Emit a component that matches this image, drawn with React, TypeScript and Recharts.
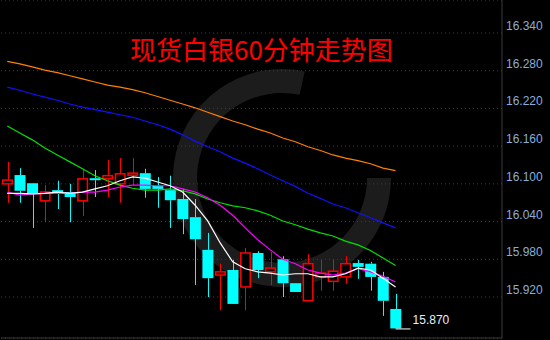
import React from "react";
import {
  ComposedChart, Bar, Line, XAxis, YAxis, CartesianGrid, ReferenceLine, ReferenceDot,
} from "recharts";

// 60-minute spot silver candles
const opens = [16.100, 16.114, 16.101, 16.073, 16.090, 16.087, 16.073, 16.109, 16.108, 16.100, 16.114, 16.117, 16.097, 16.090, 16.076, 16.047, 15.995, 15.955, 15.963, 15.936, 15.990, 15.960, 15.980, 15.942, 15.914, 15.952, 15.945, 15.952, 15.974, 15.973, 15.952, 15.901];
const closes = [16.106, 16.089, 16.084, 16.087, 16.084, 16.079, 16.108, 16.106, 16.113, 16.116, 16.117, 16.092, 16.092, 16.074, 16.044, 16.012, 15.950, 15.960, 15.909, 15.990, 15.963, 15.966, 15.942, 15.928, 15.973, 15.958, 15.961, 15.973, 15.968, 15.952, 15.914, 15.870];
const highs = [16.135, 16.125, 16.101, 16.098, 16.105, 16.100, 16.124, 16.122, 16.138, 16.141, 16.141, 16.124, 16.111, 16.113, 16.092, 16.076, 16.022, 15.973, 15.979, 15.998, 15.993, 15.992, 15.985, 15.942, 15.988, 15.979, 15.980, 15.985, 15.979, 15.976, 15.960, 15.925];
const lows = [16.070, 16.070, 16.030, 16.039, 16.060, 16.039, 16.049, 16.079, 16.079, 16.070, 16.098, 16.078, 16.062, 16.030, 16.020, 15.939, 15.920, 15.899, 15.909, 15.899, 15.950, 15.939, 15.920, 15.928, 15.914, 15.930, 15.930, 15.941, 15.949, 15.930, 15.890, 15.870];

// moving averages
const ma5 = [16.085, 16.085, 16.084, 16.085, 16.087, 16.085, 16.087, 16.092, 16.097, 16.105, 16.111, 16.109, 16.103, 16.097, 16.087, 16.066, 16.041, 16.006, 15.976, 15.965, 15.960, 15.958, 15.955, 15.957, 15.957, 15.952, 15.952, 15.957, 15.966, 15.963, 15.950, 15.936];
const ma10 = [16.087, 16.082, 16.084, 16.085, 16.085, 16.085, 16.087, 16.087, 16.090, 16.095, 16.098, 16.098, 16.097, 16.097, 16.092, 16.087, 16.078, 16.066, 16.050, 16.030, 16.011, 15.995, 15.980, 15.973, 15.963, 15.958, 15.955, 15.958, 15.965, 15.960, 15.953, 15.944];
const ma20 = [16.192, 16.181, 16.170, 16.157, 16.146, 16.135, 16.124, 16.113, 16.105, 16.098, 16.093, 16.090, 16.090, 16.092, 16.089, 16.084, 16.076, 16.070, 16.065, 16.062, 16.057, 16.050, 16.041, 16.035, 16.028, 16.022, 16.017, 16.009, 16.003, 15.994, 15.982, 15.970];
const ma60 = [16.254, 16.249, 16.243, 16.238, 16.233, 16.227, 16.222, 16.218, 16.214, 16.210, 16.206, 16.200, 16.194, 16.187, 16.178, 16.168, 16.159, 16.151, 16.141, 16.133, 16.124, 16.114, 16.105, 16.096, 16.085, 16.077, 16.068, 16.062, 16.054, 16.046, 16.038, 16.030];
const ma120 = [16.295, 16.291, 16.286, 16.281, 16.277, 16.272, 16.267, 16.262, 16.257, 16.254, 16.250, 16.245, 16.239, 16.233, 16.227, 16.221, 16.214, 16.207, 16.200, 16.194, 16.187, 16.181, 16.173, 16.167, 16.159, 16.153, 16.146, 16.141, 16.137, 16.132, 16.125, 16.121];

const priceTicks = [15.92, 15.98, 16.04, 16.1, 16.16, 16.22, 16.28, 16.34];
const lastPrice = 15.87;
const TITLE = "现货白银60分钟走势图";

const SLOTS = 40; // the chart leaves empty room on the right
const RED = "#ff0000";
const CYAN = "#00ffff";
const Y_MAX = 16.3925;
const Y_MIN = 15.8548;

const rows = Array.from({ length: SLOTS }, (_, i) => {
  if (i >= opens.length) return { t: `p${i}` } as any;
  return {
    t: `c${i}`,
    open: opens[i], close: closes[i], high: highs[i], low: lows[i],
    range: [lows[i], highs[i]],
    ma5: ma5[i], ma10: ma10[i], ma20: ma20[i], ma60: ma60[i], ma120: ma120[i],
  };
});

function Candle(props: any) {
  const { x, width, payload } = props;
  if (!payload || payload.high == null) return null;
  let { y, height } = props;
  if (height < 0) { y = y + height; height = -height; }
  const { open, close, high, low } = payload;
  const k = height / (high - low || 1e-9);
  const yO = y + (high - open) * k;
  const yC = y + (high - close) * k;
  const up = close >= open;
  const color = up ? RED : CYAN;
  const top = Math.min(yO, yC);
  const bh = Math.max(Math.abs(yO - yC), 2);
  const cx = Math.round(x + width / 2) + 0.5;
  return (
    <g>
      <line x1={cx} x2={cx} y1={y} y2={top} stroke={color} />
      <line x1={cx} x2={cx} y1={top + bh} y2={y + height} stroke={color} />
      {up ? (
        <rect x={x + 0.75} y={top} width={width - 1.5} height={bh} fill="#000" stroke={color} strokeWidth={1.5} />
      ) : (
        <rect x={x} y={top} width={width} height={bh} fill={color} />
      )}
    </g>
  );
}

function PriceTick(props: any) {
  const { x, y, payload } = props;
  return (
    <text x={x + 2} y={y - 3} fill="#8aaed8" fontSize={12} fontFamily="Liberation Sans, Arial, sans-serif" textAnchor="start">
      {Number(payload.value).toFixed(3)}
    </text>
  );
}

function LastPrice(props: any) {
  const { cx, cy } = props;
  if (cx == null || cy == null) return null;
  return (
    <g>
      <line x1={cx} x2={cx + 15} y1={cy + 0.5} y2={cy + 0.5} stroke="#ffffff" />
      <text x={cx + 17} y={cy - 4} fill="#e8eef8" fontSize={12} fontFamily="Liberation Sans, Arial, sans-serif">
        {lastPrice.toFixed(3)}
      </text>
    </g>
  );
}

export default function App() {
  // watermark ring behind the chart
  const cx = 282, cy = 178, r = 97;
  const a0 = 0, a1 = (282 * Math.PI) / 180;
  const ring = `M ${cx + r * Math.cos(a0)} ${cy + r * Math.sin(a0)} A ${r} ${r} 0 1 1 ${cx + r * Math.cos(a1)} ${cy + r * Math.sin(a1)}`;

  return (
    <div style={{ position: "fixed", left: 0, top: 0, width: 550, height: 340, background: "#000", overflow: "hidden" }}>
      <svg width={550} height={340} style={{ position: "absolute", left: 0, top: 0 }}>
        <path d={ring} fill="none" stroke="#1c1c1c" strokeWidth={24} />
      </svg>
      <div style={{ position: "absolute", left: 0, top: 0 }}>
        <ComposedChart width={550} height={340} data={rows} margin={{ top: 0, right: 1, bottom: 2, left: 1 }}>
          <CartesianGrid horizontal vertical={false} stroke="#3e3e3e" strokeDasharray="1 3" />
          <XAxis dataKey="t" hide />
          <YAxis
            orientation="right"
            width={47}
            domain={[Y_MIN, Y_MAX]}
            allowDataOverflow
            ticks={priceTicks}
            tick={<PriceTick />}
            tickLine={false}
            tickSize={0}
            axisLine={{ stroke: "#3a3a3a" }}
            interval={0}
          />
          <ReferenceLine y={Y_MIN} stroke="#3a3a3a" />
          <Bar dataKey="range" barSize={11} shape={<Candle />} isAnimationActive={false} />
          <Line dataKey="ma120" stroke="#ff8000" strokeWidth={1.2} dot={false} isAnimationActive={false} />
          <Line dataKey="ma60" stroke="#1010ff" strokeWidth={1.2} dot={false} isAnimationActive={false} />
          <Line dataKey="ma20" stroke="#00e000" strokeWidth={1.2} dot={false} isAnimationActive={false} />
          <Line dataKey="ma10" stroke="#ff00ff" strokeWidth={1.2} dot={false} isAnimationActive={false} />
          <Line dataKey="ma5" stroke="#ffffff" strokeWidth={1.2} dot={false} isAnimationActive={false} />
          <ReferenceDot x={`c${opens.length - 1}`} y={lastPrice} r={0} ifOverflow="visible" shape={<LastPrice />} />
        </ComposedChart>
      </div>
      <svg width={550} height={340} style={{ position: "absolute", left: 0, top: 0, pointerEvents: "none" }}>
        <text x={130} y={60} fill="#ff0000" fontSize={26} fontFamily="'Noto Sans CJK SC', sans-serif">{TITLE}</text>
      </svg>
    </div>
  );
}
